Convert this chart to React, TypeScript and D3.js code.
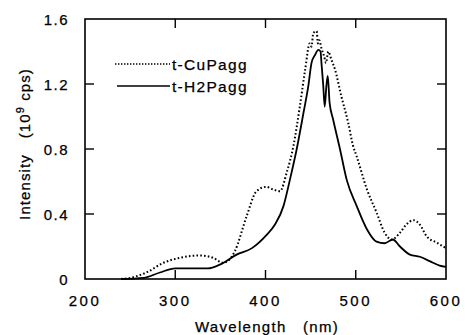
import React from "react";
import * as d3 from "d3";

const xTicks = [200, 300, 400, 500, 600];
const yTicks = [0, 0.4, 0.8, 1.2, 1.6];
const yTickLabels = ["0", "0.4", "0.8", "1.2", "1.6"];
const seriesNames = ["t-CuPagg", "t-H2Pagg"];

const cuWavelength = [240, 250, 268, 287, 305, 327, 342, 353, 360, 366, 379, 390, 401, 409, 416, 423.5, 431, 438, 444, 449, 451, 453, 456.7, 458, 459.6, 462, 465, 467, 469.6, 473, 477, 484, 491.7, 497, 501, 512.5, 523, 532, 540, 549, 556, 564, 571, 578.5, 590, 600];
const cuIntensity = [0, 0.007, 0.04, 0.1, 0.13, 0.145, 0.13, 0.1, 0.12, 0.17, 0.385, 0.54, 0.567, 0.55, 0.54, 0.655, 0.82, 1.06, 1.29, 1.45, 1.43, 1.515, 1.525, 1.45, 1.47, 1.42, 1.37, 1.33, 1.4, 1.35, 1.29, 1.125, 0.96, 0.82, 0.755, 0.55, 0.41, 0.285, 0.243, 0.285, 0.335, 0.362, 0.335, 0.263, 0.223, 0.19];

const h2Wavelength = [240, 265, 283, 300, 336, 350, 368, 385, 401, 410.5, 420, 427, 434.6, 442, 447.5, 451, 455, 458.5, 461, 462, 464, 465.6, 467.5, 469, 471, 475, 482.5, 490, 501, 512.5, 523, 532, 541, 549, 560, 571, 582, 593, 600];
const h2Intensity = [0, 0.007, 0.04, 0.065, 0.065, 0.09, 0.15, 0.19, 0.27, 0.335, 0.45, 0.61, 0.8, 1.02, 1.19, 1.33, 1.38, 1.41, 1.4, 1.33, 1.19, 1.06, 1.19, 1.25, 1.085, 0.98, 0.8, 0.61, 0.45, 0.305, 0.23, 0.22, 0.243, 0.2, 0.15, 0.137, 0.11, 0.083, 0.075];

const W = 465, H = 335;
const left = 85, right = 446, top = 19, bottom = 279;
const FONT = "'Liberation Sans', Arial, Helvetica, sans-serif";

export default function App() {
  const x = d3.scaleLinear().domain([200, 600]).range([left, right]);
  const y = d3.scaleLinear().domain([0, 1.6]).range([bottom, top]);
  const line = d3.line<[number, number]>().x(d => x(d[0])).y(d => y(d[1])).curve(d3.curveMonotoneX);
  const cu = line(cuWavelength.map((w, i) => [w, cuIntensity[i]]))!;
  const h2 = line(h2Wavelength.map((w, i) => [w, h2Intensity[i]]))!;
  const tl = 9;
  const textStyle = { stroke: "#000", strokeWidth: 0.25 };
  return (
    <svg width={W} height={H} style={{ position: "absolute", left: 0, top: 0, background: "#fff" }}>
      <rect x={0} y={0} width={W} height={H} fill="#fff" />
      <rect x={left} y={top} width={right - left} height={bottom - top} fill="none" stroke="#000" strokeWidth={1.6} />
      {xTicks.slice(1, -1).map(t => (
        <g key={"xt" + t}>
          <line x1={x(t)} x2={x(t)} y1={bottom} y2={bottom - tl} stroke="#000" strokeWidth={1.4} />
          <line x1={x(t)} x2={x(t)} y1={top} y2={top + tl} stroke="#000" strokeWidth={1.4} />
        </g>
      ))}
      {yTicks.slice(1, -1).map(t => (
        <g key={"yt" + t}>
          <line x1={left} x2={left + tl} y1={y(t)} y2={y(t)} stroke="#000" strokeWidth={1.4} />
          <line x1={right} x2={right - tl} y1={y(t)} y2={y(t)} stroke="#000" strokeWidth={1.4} />
        </g>
      ))}
      {xTicks.map(t => (
        <text key={"xl" + t} x={x(t)} y={306} textAnchor="middle" fontFamily={FONT} fontSize={15} letterSpacing={2.5} fill="#000" style={textStyle}>{t}</text>
      ))}
      {yTicks.map((t, i) => (
        <text key={"yl" + t} x={69} y={y(t) + 5.5} textAnchor="end" fontFamily={FONT} fontSize={15} letterSpacing={1.5} fill="#000" style={textStyle}>{yTickLabels[i]}</text>
      ))}
      <text x={267} y={332} textAnchor="middle" fontFamily={FONT} fontSize={15} letterSpacing={1.3} fill="#000" xmlSpace="preserve" style={textStyle}>Wavelength   (nm)</text>
      <text transform={`translate(30,144) rotate(-90)`} textAnchor="middle" fontFamily={FONT} fontSize={15} letterSpacing={1.1} fill="#000" xmlSpace="preserve" style={textStyle}>
        Intensity   (10<tspan dy={-6} fontSize={11}>9</tspan><tspan dy={6}> cps)</tspan>
      </text>
      <path d={cu} fill="none" stroke="#000" strokeWidth={2} strokeDasharray="1.6 2.2" />
      <path d={h2} fill="none" stroke="#000" strokeWidth={1.8} />
      <line x1={115} x2={170} y1={64} y2={64} stroke="#000" strokeWidth={1.6} strokeDasharray="1.4 1.6" />
      <line x1={117} x2={170} y1={86} y2={86} stroke="#000" strokeWidth={1.6} />
      <text x={172} y={69.5} fontFamily={FONT} fontSize={15.5} letterSpacing={1.3} fill="#000" style={textStyle}>{seriesNames[0]}</text>
      <text x={172} y={91.5} fontFamily={FONT} fontSize={15.5} letterSpacing={1.3} fill="#000" style={textStyle}>{seriesNames[1]}</text>
    </svg>
  );
}
